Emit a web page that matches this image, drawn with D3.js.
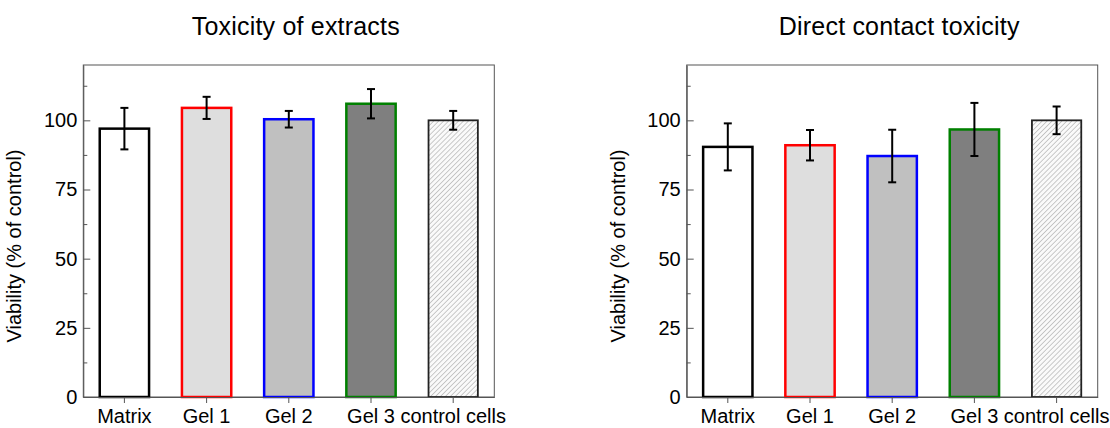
<!DOCTYPE html>
<html>
<head>
<meta charset="utf-8">
<script src="https://cdn.jsdelivr.net/npm/d3@7"></script>
<style>
  body { margin: 0; background: #fff; }
  svg { font-family: "Liberation Sans", Arial, sans-serif; }
</style>
</head>
<body>
<svg width="1110" height="428"></svg>
<script>
var categories = ["Matrix", "Gel 1", "Gel 2", "Gel 3", "control cells"];
var extractsMean = [97, 104.5, 100.4, 106, 100];
var extractsErr = [7.5, 4, 3, 5.3, 3.4];
var contactMean = [90.4, 91, 87.1, 96.7, 100];
var contactErr = [8.5, 5.5, 9.5, 9.6, 5];
var yTicks = [0, 25, 50, 75, 100];
var yMinor = [12.5, 37.5, 62.5, 87.5, 112.5];

var fills = ["#ffffff", "#dedede", "#c0c0c0", "#7f7f7f", "url(#hatch)"];
var strokes = ["#000000", "#ff0000", "#0000ff", "#008000", "#222222"];

var svg = d3.select("svg");
var w = 411, h = 332;

var defs = svg.append("defs");
var pat = defs.append("pattern")
  .attr("id", "hatch")
  .attr("patternUnits", "userSpaceOnUse")
  .attr("width", 3.5).attr("height", 3.5)
  .attr("patternTransform", "rotate(45)");
pat.append("rect").attr("width", 3.5).attr("height", 3.5).attr("fill", "#fafafa");
pat.append("line").attr("x1", 0).attr("y1", 0).attr("x2", 0).attr("y2", 3.5)
  .attr("stroke", "#a0a0a0").attr("stroke-width", 1.1);

var x = d3.scaleBand().domain(categories).range([0, w])
  .paddingInner(0.4).paddingOuter(0.2);
var y = d3.scaleLinear().domain([0, 120]).range([h, 0]);

function panel(left, title, means, errs) {
  var g = svg.append("g").attr("transform", "translate(" + left + ",65)");
  var data = categories.map(function(c, i) {
    return {cat: c, v: means[i], e: errs[i], i: i};
  });

  g.append("rect").attr("width", w).attr("height", h)
    .attr("fill", "none").attr("stroke", "#555").attr("stroke-width", 1);

  g.selectAll(".bar").data(data).enter().append("rect")
    .attr("x", function(d) { return x(d.cat); })
    .attr("y", function(d) { return y(d.v); })
    .attr("width", x.bandwidth())
    .attr("height", function(d) { return h - y(d.v); })
    .attr("fill", function(d) { return fills[d.i]; })
    .attr("stroke", function(d) { return strokes[d.i]; })
    .attr("stroke-width", function(d) { return d.i == 4 ? 1.8 : 2.5; });

  var eb = g.selectAll(".err").data(data).enter().append("g")
    .attr("stroke", "#000").attr("stroke-width", 2);
  eb.append("line")
    .attr("x1", function(d) { return x(d.cat) + x.bandwidth() / 2; })
    .attr("x2", function(d) { return x(d.cat) + x.bandwidth() / 2; })
    .attr("y1", function(d) { return y(d.v + d.e); })
    .attr("y2", function(d) { return y(d.v - d.e); });
  [1, -1].forEach(function(s) {
    eb.append("line")
      .attr("x1", function(d) { return x(d.cat) + x.bandwidth() / 2 - 4; })
      .attr("x2", function(d) { return x(d.cat) + x.bandwidth() / 2 + 4; })
      .attr("y1", function(d) { return y(d.v + s * d.e); })
      .attr("y2", function(d) { return y(d.v + s * d.e); });
  });

  var ya = g.append("g").call(d3.axisLeft(y).tickValues(yTicks)
    .tickSizeInner(-7).tickSizeOuter(0).tickPadding(6));
  ya.select(".domain").attr("stroke", "#555");
  ya.selectAll(".tick line").attr("stroke", "#555");
  ya.selectAll("text").attr("font-size", 20).attr("fill", "#000")
    .attr("font-family", "Liberation Sans, Arial, sans-serif");

  var ym = g.append("g").call(d3.axisLeft(y).tickValues(yMinor)
    .tickSizeInner(-4).tickSizeOuter(0).tickFormat(""));
  ym.select(".domain").remove();
  ym.selectAll(".tick line").attr("stroke", "#555");

  var xa = g.append("g").attr("transform", "translate(0," + h + ")")
    .call(d3.axisBottom(x).tickSizeInner(6).tickSizeOuter(0).tickPadding(6));
  xa.select(".domain").attr("stroke", "#555");
  xa.selectAll(".tick line").attr("stroke", "#555");
  xa.selectAll("text").attr("font-size", 20).attr("fill", "#000")
    .attr("font-family", "Liberation Sans, Arial, sans-serif");

  g.append("text")
    .attr("transform", "translate(" + (-62) + "," + (h / 2 + 15) + ") rotate(-90)")
    .attr("text-anchor", "middle")
    .attr("font-size", 20).attr("fill", "#000")
    .text("Viability (% of control)");

  g.append("text")
    .attr("x", w / 2 + 7).attr("y", -30)
    .attr("text-anchor", "middle")
    .attr("font-size", 25).attr("letter-spacing", 0.2).attr("fill", "#000")
    .text(title);
}

panel(83.3, "Toxicity of extracts", extractsMean, extractsErr);
panel(686.7, "Direct contact toxicity", contactMean, contactErr);
</script>
</body>
</html>
